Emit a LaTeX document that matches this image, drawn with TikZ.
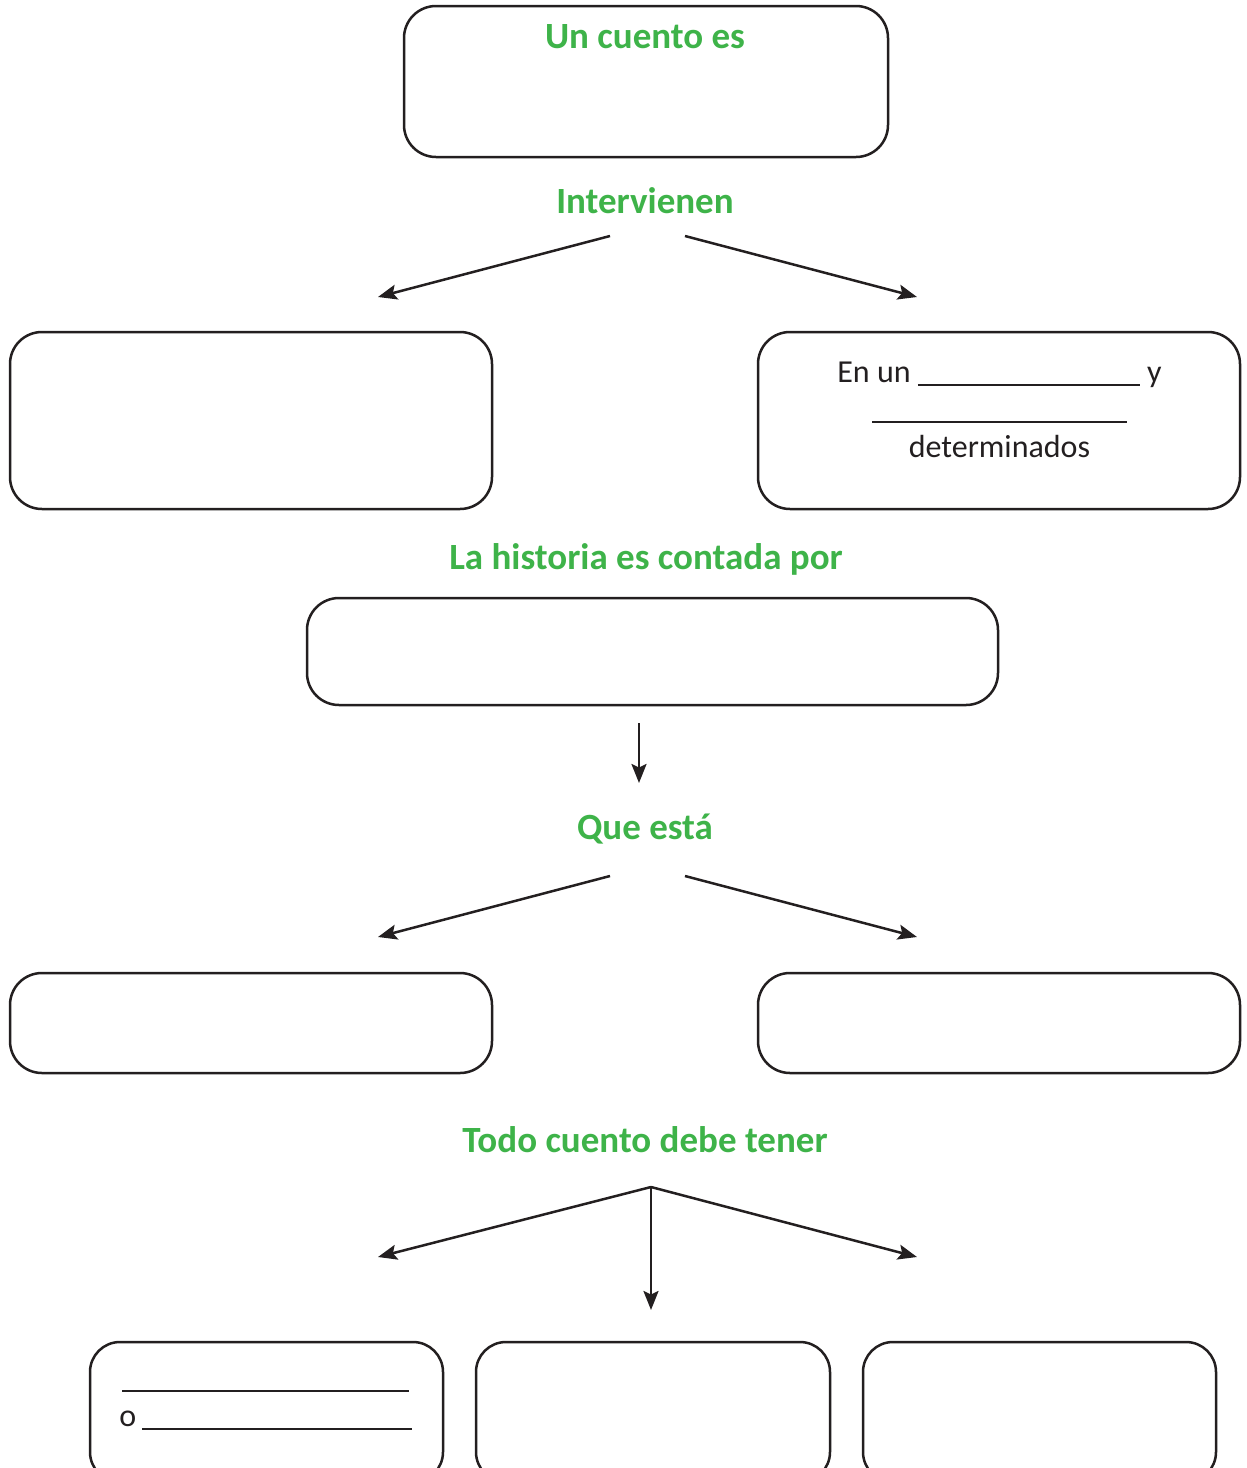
\documentclass[tikz,border=0pt]{standalone}
\usepackage{fontspec}
\setmainfont{Carlito}
\usetikzlibrary{arrows.meta}
\definecolor{titlegreen}{RGB}{62,179,73}
\definecolor{ink}{RGB}{35,31,32}
\tikzset{
  box/.style={draw=ink, line width=1.25pt, rounded corners=16pt, rectangle, inner sep=0pt},
  title/.style={anchor=base, text=titlegreen, font=\fontsize{18.5}{22}\selectfont\bfseries, inner sep=0pt},
  body/.style={anchor=base, text=ink, font=\fontsize{16}{19}\selectfont, inner sep=0pt},
  arr/.style={draw=ink, line width=1.25pt, -{Stealth[length=9.5pt,width=7.5pt,inset=1.8pt]}},
}
\begin{document}
\begin{tikzpicture}[x=0.5pt,y=-0.5pt]
\useasboundingbox (0,0) rectangle (1247,1468);
\clip (0,0) rectangle (1247,1468);
% top box
\node[box, minimum width=242pt, minimum height=75.5pt] (top) at (646,81.5) {};
\node[title] (t1) at (645,48) {Un cuento es};
\node[title] (t2) at (645,213) {Intervienen};
% row 1
\node[box, minimum width=241pt, minimum height=88.5pt] (b1l) at (251,420.5) {};
\node[box, minimum width=241pt, minimum height=88.5pt] (b1r) at (999,420.5) {};
\node[body] (e1) at (999.5,382) {En un \rule[-1.8pt]{111pt}{0.9pt} y};
\node[body] (e2) at (999.5,423) {\rule{127.5pt}{0.9pt}};
\node[body] (e3) at (999.5,457) {determinados};
\coordinate (a1s) at (610,236); \coordinate (a1e) at (378,297);
\coordinate (a2s) at (685,236); \coordinate (a2e) at (917,297);
\draw[arr] (a1s) -- (a1e);
\draw[arr] (a2s) -- (a2e);
% middle
\node[title] (t3) at (646,569) {La historia es contada por};
\node[box, minimum width=345.5pt, minimum height=53.5pt] (mid) at (652.5,651.5) {};
\coordinate (a3s) at (639,723); \coordinate (a3e) at (639,783);
\draw[arr] (a3s) -- (a3e);
\node[title] (t4) at (645,839) {Que está};
\coordinate (a4s) at (610,876); \coordinate (a4e) at (378,937);
\coordinate (a5s) at (685,876); \coordinate (a5e) at (917,937);
\draw[arr] (a4s) -- (a4e);
\draw[arr] (a5s) -- (a5e);
% row 3
\node[box, minimum width=241pt, minimum height=50pt] (b3l) at (251,1023) {};
\node[box, minimum width=241pt, minimum height=50pt] (b3r) at (999,1023) {};
\node[title] (t5) at (645,1152) {Todo cuento debe tener};
\coordinate (hub) at (651,1187);
\coordinate (a6e) at (378,1257);
\coordinate (a7e) at (651,1310);
\coordinate (a8e) at (917,1257);
\draw[arr] (hub) -- (a6e);
\draw[arr] (hub) -- (a7e);
\draw[arr] (hub) -- (a8e);
% bottom boxes
\node[box, rounded corners=15pt, minimum width=176.5pt, minimum height=70pt] (c1) at (266.5,1412) {};
\node[box, rounded corners=15pt, minimum width=177pt, minimum height=70pt] (c2) at (653,1412) {};
\node[box, rounded corners=15pt, minimum width=176.5pt, minimum height=70pt] (c3) at (1039.5,1412) {};
\node[body, anchor=base west] (o1) at (122,1392) {\rule{143.5pt}{0.9pt}};
\node[body, anchor=base west] (o2) at (119,1426) {o\hspace{3pt}\rule[-2pt]{135pt}{0.9pt}};
\end{tikzpicture}
\end{document}
